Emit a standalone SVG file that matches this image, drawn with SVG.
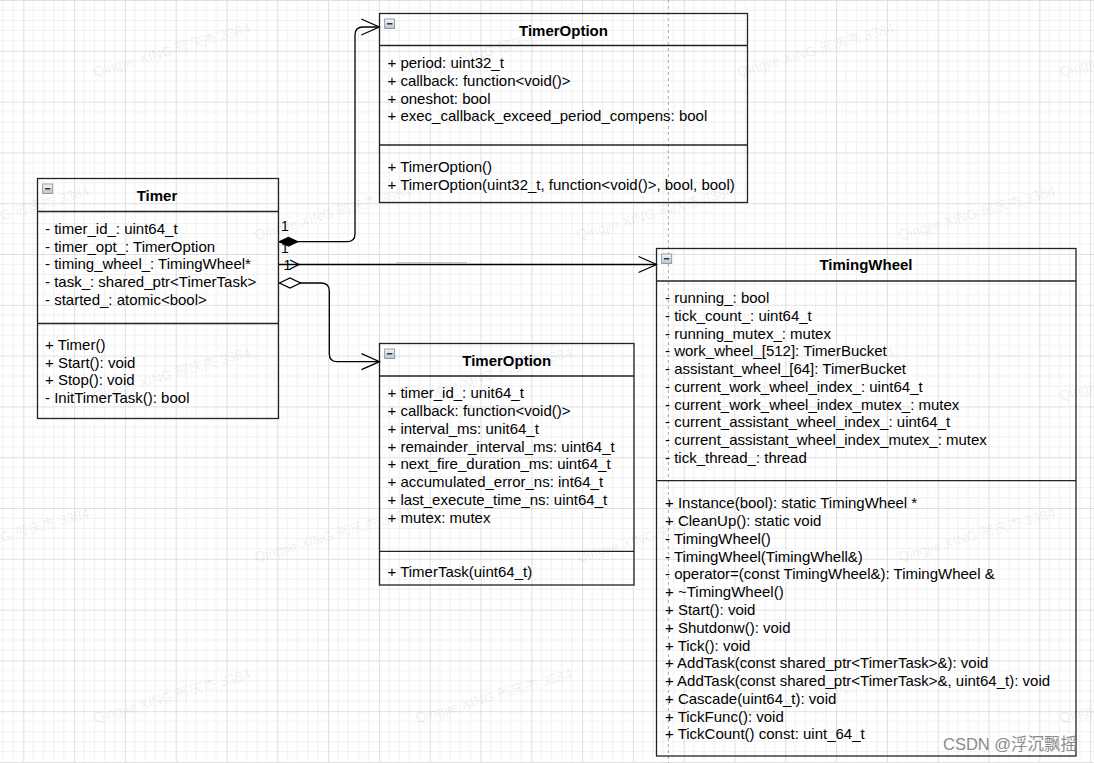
<svg xmlns="http://www.w3.org/2000/svg" width="1094" height="763" viewBox="0 0 1094 763">
<defs>
<style>
.box{fill:none;stroke:#222;stroke-width:1.3}
.sep{stroke:#222;stroke-width:1.3}
.t{font-family:"Liberation Sans",Arial,sans-serif;font-size:15px;fill:#000}
.title{font-family:"Liberation Sans",Arial,sans-serif;font-size:15px;font-weight:bold;fill:#000;text-anchor:middle}
.edge{fill:none;stroke:#000;stroke-width:1.3}
.lbl{font-family:"Liberation Sans",Arial,sans-serif;font-size:14px;fill:#000}
.wm{font-family:"Liberation Sans","Noto Sans CJK SC",sans-serif;font-size:14px;fill:#000;fill-opacity:0.07}
.icon{fill:url(#ig);stroke:#7b8896;stroke-width:0.8}
.minus{stroke:#222;stroke-width:1.4}
</style>
<linearGradient id="ig" x1="0" y1="0" x2="0" y2="1">
<stop offset="0" stop-color="#f4f7fa"/>
<stop offset="1" stop-color="#b9c5d1"/>
</linearGradient>
<pattern id="grid" patternUnits="userSpaceOnUse" x="23.3" y="0" width="50.8" height="50.8">
<rect width="50.8" height="50.8" fill="#fff"/>
<path d="M10.16,0V50.8M20.32,0V50.8M30.48,0V50.8M40.64,0V50.8M0,10.16H50.8M0,20.32H50.8M0,30.48H50.8M0,40.64H50.8" stroke="#f1f1f1" stroke-width="1"/>
<path d="M0.5,0V50.8M0,0.5H50.8" stroke="#e0e0e0" stroke-width="1"/>
</pattern>
<marker id="openArrow" markerUnits="userSpaceOnUse" markerWidth="22" markerHeight="20" refX="18" refY="8" orient="auto" overflow="visible">
<path d="M0,0 L18,8 L0,16" fill="none" stroke="#000" stroke-width="1.3"/>
</marker>
<marker id="filledDiamond" markerUnits="userSpaceOnUse" markerWidth="22" markerHeight="12" refX="0" refY="4.5" orient="auto" overflow="visible">
<path d="M0,4.5 L9.5,0 L19,4.5 L9.5,9 Z" fill="#000" stroke="#000" stroke-width="1"/>
</marker>
<marker id="hollowDiamond" markerUnits="userSpaceOnUse" markerWidth="24" markerHeight="12" refX="0" refY="5" orient="auto" overflow="visible">
<path d="M0,5 L10.5,0 L21,5 L10.5,10 Z" fill="#fff" stroke="#000" stroke-width="1.3"/>
</marker>
</defs>

<rect x="0" y="0" width="1094" height="763" fill="url(#grid)"/>
<line x1="668.3" y1="0" x2="668.3" y2="763" stroke="#a8a8a8" stroke-width="1" stroke-dasharray="3,3"/>

<g id="connectors">
<path id="composition" class="edge" d="M279,241.7 H347 Q355,241.7 355,233.7 V35 Q355,27 363,27 H379.3" marker-start="url(#filledDiamond)" marker-end="url(#openArrow)"/>
<path id="association" class="edge" d="M279,264.5 H656.5" marker-end="url(#openArrow)"/>
<polyline class="edge" points="290,260 299,264.5 290,269"/>
<line x1="396" y1="262.6" x2="467" y2="262.6" stroke="#c4c4c4" stroke-width="1"/>
<path id="aggregation" class="edge" d="M279.5,283 H321 Q329.3,283 329.3,291 V353.7 Q329.3,361.7 337.3,361.7 H379.5" marker-start="url(#hollowDiamond)" marker-end="url(#openArrow)"/>
<text class="lbl" x="281" y="231">1</text>
<text class="lbl" x="281" y="253">1</text>
<text class="lbl" x="283.5" y="270">1</text>
</g>

<g id="Timer">
<rect class="box" x="37.5" y="178.5" width="241" height="240"/>
<line class="sep" x1="37.5" y1="211.5" x2="278.5" y2="211.5"/>
<line class="sep" x1="37.5" y1="323.5" x2="278.5" y2="323.5"/>
<rect class="icon" x="42.7" y="184" width="10" height="9.5"/>
<line class="minus" x1="45" y1="188.8" x2="50.4" y2="188.8"/>
<text class="title" x="157" y="201">Timer</text>
<text class="t">
<tspan x="45" y="234">- timer_id_: uint64_t</tspan>
<tspan x="45" y="251.7">- timer_opt_: TimerOption</tspan>
<tspan x="45" y="269.4">- timing_wheel_: TimingWheel*</tspan>
<tspan x="45" y="287.1">- task_: shared_ptr&lt;TimerTask&gt;</tspan>
<tspan x="45" y="304.8">- started_: atomic&lt;bool&gt;</tspan>
</text>
<text class="t">
<tspan x="45" y="350">+ Timer()</tspan>
<tspan x="45" y="367.7">+ Start(): void</tspan>
<tspan x="45" y="385.4">+ Stop(): void</tspan>
<tspan x="45" y="403.1">- InitTimerTask(): bool</tspan>
</text>
</g>

<g id="TimerOption">
<rect class="box" x="379.5" y="13.5" width="368" height="189"/>
<line class="sep" x1="379.5" y1="45.5" x2="747.5" y2="45.5"/>
<line class="sep" x1="379.5" y1="145" x2="747.5" y2="145"/>
<rect class="icon" x="384.7" y="19" width="10" height="9.5"/>
<line class="minus" x1="387" y1="23.8" x2="392.4" y2="23.8"/>
<text class="title" x="563.5" y="36">TimerOption</text>
<text class="t">
<tspan x="387.5" y="68.3">+ period: uint32_t</tspan>
<tspan x="387.5" y="86">+ callback: function&lt;void()&gt;</tspan>
<tspan x="387.5" y="103.7">+ oneshot: bool</tspan>
<tspan x="387.5" y="121.4">+ exec_callback_exceed_period_compens: bool</tspan>
</text>
<text class="t">
<tspan x="387.5" y="172.3">+ TimerOption()</tspan>
<tspan x="387.5" y="190">+ TimerOption(uint32_t, function&lt;void()&gt;, bool, bool)</tspan>
</text>
</g>

<g id="TimerTask">
<rect class="box" x="379.5" y="343.5" width="254.5" height="241.5"/>
<line class="sep" x1="379.5" y1="376" x2="634" y2="376"/>
<line class="sep" x1="379.5" y1="551.3" x2="634" y2="551.3"/>
<rect class="icon" x="384.7" y="349" width="10" height="9.5"/>
<line class="minus" x1="387" y1="353.8" x2="392.4" y2="353.8"/>
<text class="title" x="506.7" y="366">TimerOption</text>
<text class="t">
<tspan x="387.5" y="398.3">+ timer_id_: unit64_t</tspan>
<tspan x="387.5" y="416.1">+ callback: function&lt;void()&gt;</tspan>
<tspan x="387.5" y="433.8">+ interval_ms: unit64_t</tspan>
<tspan x="387.5" y="451.6">+ remainder_interval_ms: uint64_t</tspan>
<tspan x="387.5" y="469.4">+ next_fire_duration_ms: uint64_t</tspan>
<tspan x="387.5" y="487.2">+ accumulated_error_ns: int64_t</tspan>
<tspan x="387.5" y="504.9">+ last_execute_time_ns: uint64_t</tspan>
<tspan x="387.5" y="522.7">+ mutex: mutex</tspan>
</text>
<text class="t"><tspan x="387.5" y="577.3">+ TimerTask(uint64_t)</tspan></text>
</g>

<g id="TimingWheel">
<rect class="box" x="656.5" y="248.5" width="419.5" height="507.5"/>
<line class="sep" x1="656.5" y1="281" x2="1076" y2="281"/>
<line class="sep" x1="656.5" y1="480.7" x2="1076" y2="480.7"/>
<rect class="icon" x="661.7" y="254" width="10" height="9.5"/>
<line class="minus" x1="664" y1="258.8" x2="669.4" y2="258.8"/>
<text class="title" x="866" y="270">TimingWheel</text>
<text class="t">
<tspan x="665" y="303.3">- running_: bool</tspan>
<tspan x="665" y="321">- tick_count_: uint64_t</tspan>
<tspan x="665" y="338.7">- running_mutex_: mutex</tspan>
<tspan x="665" y="356.4">- work_wheel_[512]: TimerBucket</tspan>
<tspan x="665" y="374.1">- assistant_wheel_[64]: TimerBucket</tspan>
<tspan x="665" y="391.8">- current_work_wheel_index_: uint64_t</tspan>
<tspan x="665" y="409.5">- current_work_wheel_index_mutex_: mutex</tspan>
<tspan x="665" y="427.2">- current_assistant_wheel_index_: uint64_t</tspan>
<tspan x="665" y="444.9">- current_assistant_wheel_index_mutex_: mutex</tspan>
<tspan x="665" y="462.6">- tick_thread_: thread</tspan>
</text>
<text class="t">
<tspan x="665" y="508.3">+ Instance(bool): static TimingWheel *</tspan>
<tspan x="665" y="526.1">+ CleanUp(): static void</tspan>
<tspan x="665" y="543.8">- TimingWheel()</tspan>
<tspan x="665" y="561.6">- TimingWheel(TimingWhell&amp;)</tspan>
<tspan x="665" y="579.4">- operator=(const TimingWheel&amp;): TimingWheel &amp;</tspan>
<tspan x="665" y="597.2">+ ~TimingWheel()</tspan>
<tspan x="665" y="614.9">+ Start(): void</tspan>
<tspan x="665" y="632.7">+ Shutdonw(): void</tspan>
<tspan x="665" y="650.5">+ Tick(): void</tspan>
<tspan x="665" y="668.3">+ AddTask(const shared_ptr&lt;TimerTask&gt;&amp;): void</tspan>
<tspan x="665" y="686">+ AddTask(const shared_ptr&lt;TimerTask&gt;&amp;, uint64_t): void</tspan>
<tspan x="665" y="703.8">+ Cascade(uint64_t): void</tspan>
<tspan x="665" y="721.6">+ TickFunc(): void</tspan>
<tspan x="665" y="739.3">+ TickCount() const: uint_64_t</tspan>
</text>
</g>

<g id="watermarks">
<text class="wm" transform="translate(95,77) rotate(-16)">Qingjie XING 邢庆杰 3384</text>
<text class="wm" transform="translate(417,77) rotate(-16)">Qingjie XING 邢庆杰 3384</text>
<text class="wm" transform="translate(739,77) rotate(-16)">Qingjie XING 邢庆杰 3384</text>
<text class="wm" transform="translate(1061,77) rotate(-16)">Qingjie XING 邢庆杰 3384</text>
<text class="wm" transform="translate(-66,240) rotate(-16)">Qingjie XING 邢庆杰 3384</text>
<text class="wm" transform="translate(256,240) rotate(-16)">Qingjie XING 邢庆杰 3384</text>
<text class="wm" transform="translate(578,240) rotate(-16)">Qingjie XING 邢庆杰 3384</text>
<text class="wm" transform="translate(900,240) rotate(-16)">Qingjie XING 邢庆杰 3384</text>
<text class="wm" transform="translate(95,401) rotate(-16)">Qingjie XING 邢庆杰 3384</text>
<text class="wm" transform="translate(417,401) rotate(-16)">Qingjie XING 邢庆杰 3384</text>
<text class="wm" transform="translate(739,401) rotate(-16)">Qingjie XING 邢庆杰 3384</text>
<text class="wm" transform="translate(1061,401) rotate(-16)">Qingjie XING 邢庆杰 3384</text>
<text class="wm" transform="translate(-66,562) rotate(-16)">Qingjie XING 邢庆杰 3384</text>
<text class="wm" transform="translate(256,562) rotate(-16)">Qingjie XING 邢庆杰 3384</text>
<text class="wm" transform="translate(578,562) rotate(-16)">Qingjie XING 邢庆杰 3384</text>
<text class="wm" transform="translate(900,562) rotate(-16)">Qingjie XING 邢庆杰 3384</text>
<text class="wm" transform="translate(95,723) rotate(-16)">Qingjie XING 邢庆杰 3384</text>
<text class="wm" transform="translate(417,723) rotate(-16)">Qingjie XING 邢庆杰 3384</text>
<text class="wm" transform="translate(739,723) rotate(-16)">Qingjie XING 邢庆杰 3384</text>
<text class="wm" transform="translate(1061,723) rotate(-16)">Qingjie XING 邢庆杰 3384</text>
</g>

<text id="csdn" x="943" y="750" font-family="'Liberation Sans','Noto Sans CJK SC',sans-serif" font-size="16.5" fill="#8a8a8a">CSDN @浮沉飘摇</text>
</svg>
